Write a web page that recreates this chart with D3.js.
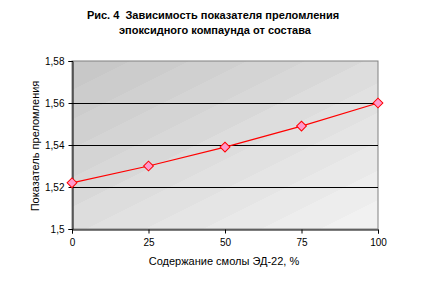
<!DOCTYPE html>
<html>
<head>
<meta charset="utf-8">
<script src="https://cdn.jsdelivr.net/npm/d3@7"></script>
<style>
body{margin:0;background:#fff;}
text{font-family:"Liberation Sans",Arial,sans-serif;}
</style>
</head>
<body>
<svg id="drawarea"></svg>
<script>
// данные с графика
var composition = [0, 25, 50, 75, 100];
var refraction = [1.522, 1.530, 1.539, 1.549, 1.560];
var yTicks = [1.5, 1.52, 1.54, 1.56, 1.58];
var yTickLabels = ["1,5", "1,52", "1,54", "1,56", "1,58"];
var titleLines = ["Рис. 4  Зависимость показателя преломления", "эпоксидного компаунда от состава"];

var W = 427, H = 283;
var m = {left:72, right:378, top:61, bottom:229};

var svg = d3.select("#drawarea").attr("width", W).attr("height", H);

var x = d3.scaleLinear().domain([0,100]).range([m.left, m.right]);
var y = d3.scaleLinear().domain([1.5,1.58]).range([m.bottom, m.top]);

/* фон с полосами */
var defs = svg.append("defs");
var pw = m.right - m.left, ph = m.bottom - m.top;
var k = (pw + 2*ph) / 5;
var grad = defs.append("linearGradient").attr("id","bg")
    .attr("gradientUnits","userSpaceOnUse")
    .attr("x1", m.left).attr("y1", m.top)
    .attr("x2", m.left + k).attr("y2", m.top + 2*k);
var nb = 11;
var col = d3.scaleLinear().domain([0, nb-1]).range(["#c8c8c8","#f1f1f1"]);
for(var i=0;i<nb;i++){
    grad.append("stop").attr("offset", i/nb).attr("stop-color", col(i));
    grad.append("stop").attr("offset", (i+1)/nb).attr("stop-color", col(i));
}
svg.append("rect")
    .attr("x", m.left).attr("y", m.top)
    .attr("width", pw).attr("height", ph)
    .attr("fill","url(#bg)")
    .attr("stroke","#808080").attr("stroke-width",1);

/* сетка */
svg.selectAll("line.grid")
    .data(yTicks.slice(1,4))
    .enter().append("line")
    .attr("class","grid")
    .attr("x1", m.left).attr("x2", m.right)
    .attr("y1", function(d){return Math.round(y(d))+0.5;})
    .attr("y2", function(d){return Math.round(y(d))+0.5;})
    .attr("stroke","#000").attr("stroke-width",1);

/* оси */
var yAxis = d3.axisLeft(y).tickValues(yTicks).tickSize(4).tickPadding(4)
    .tickFormat(function(d,i){return yTickLabels[i];});
svg.append("g").attr("transform","translate("+(m.left+0.5)+",0)").call(yAxis);
var xAxis = d3.axisBottom(x).tickValues(composition).tickSize(4).tickPadding(5);
svg.append("g").attr("transform","translate(0,"+(m.bottom+0.5)+")").call(xAxis);
svg.selectAll(".domain").attr("stroke","#000");
svg.selectAll(".tick line").attr("stroke","#000");
svg.selectAll(".tick text").attr("font-size",10).attr("fill","#000")
    .style("font-family","'Liberation Sans',Arial,sans-serif");

/* линия и маркеры */
var line = d3.line()
    .x(function(d,i){return x(composition[i]);})
    .y(function(d){return y(d);});
svg.append("path").datum(refraction)
    .attr("d", line).attr("fill","none")
    .attr("stroke","#ff0000").attr("stroke-width",1.2);

var sym = d3.symbol().type(d3.symbolSquare).size(48);
svg.selectAll("path.mk")
    .data(refraction)
    .enter().append("path")
    .attr("class","mk")
    .attr("d", sym)
    .attr("transform", function(d,i){return "translate("+x(composition[i])+","+y(d)+") rotate(45)";})
    .attr("fill","#ff99cc").attr("stroke","#ff0000").attr("stroke-width",1);

/* подписи */
svg.selectAll("text.title")
    .data(titleLines)
    .enter().append("text")
    .attr("class","title")
    .attr("x", function(d,i){return i ? 215 : 213;})
    .attr("y", function(d,i){return 19 + i*15;})
    .attr("text-anchor","middle")
    .attr("font-size",11).attr("font-weight","bold")
    .style("white-space","pre")
    .text(function(d){return d;});

svg.append("text")
    .attr("x", 224).attr("y", 265)
    .attr("text-anchor","middle").attr("font-size",11)
    .text("Содержание смолы ЭД-22, %");

svg.append("text")
    .attr("transform","translate(39,146) rotate(-90)")
    .attr("text-anchor","middle").attr("font-size",11)
    .text("Показатель преломления");
</script>
</body>
</html>
